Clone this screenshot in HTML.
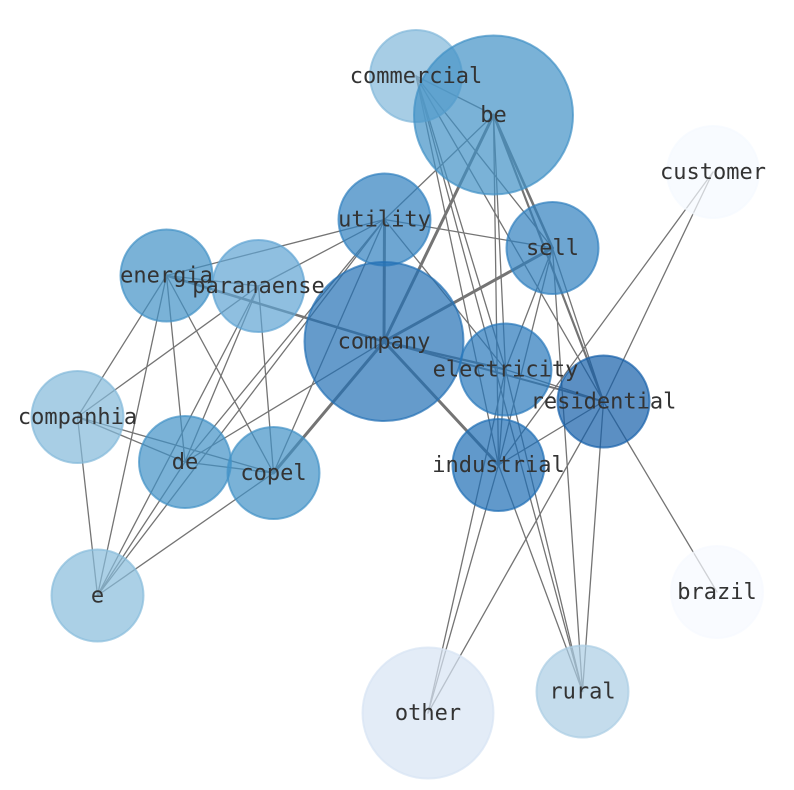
<!DOCTYPE html>
<html><head><meta charset="utf-8"><style>
html,body{margin:0;padding:0;background:#fff;}
svg{display:block;}
text{font-family:"DejaVu Sans Mono","Liberation Mono",monospace;font-size:22px;fill:#333;text-anchor:middle;}
</style></head><body>
<svg width="794" height="790" viewBox="0 0 794 790" xmlns="http://www.w3.org/2000/svg">
<rect width="794" height="790" fill="#fff"/>
<g stroke="#747474" stroke-width="1.3" fill="none" stroke-linecap="round">
<!-- left cluster -->
<line x1="166.5" y1="275.5" x2="258.5" y2="286"/>
<line x1="166.5" y1="275.5" x2="384.5" y2="219.5"/>
<line x1="166.5" y1="275.5" x2="77.5" y2="417"/>
<line x1="166.5" y1="275.5" x2="185" y2="462"/>
<line x1="166.5" y1="275.5" x2="273.5" y2="473"/>
<line x1="166.5" y1="275.5" x2="97.5" y2="595.5"/>
<line x1="258.5" y1="286" x2="384.5" y2="219.5"/>
<line x1="258.5" y1="286" x2="77.5" y2="417"/>
<line x1="258.5" y1="286" x2="185" y2="462"/>
<line x1="258.5" y1="286" x2="273.5" y2="473"/>
<line x1="258.5" y1="286" x2="97.5" y2="595.5"/>
<line x1="384.5" y1="219.5" x2="185" y2="462"/>
<line x1="384.5" y1="219.5" x2="273.5" y2="473"/>
<line x1="384.5" y1="219.5" x2="97.5" y2="595.5"/>
<line x1="77.5" y1="417" x2="185" y2="462"/>
<line x1="77.5" y1="417" x2="273.5" y2="473"/>
<line x1="77.5" y1="417" x2="97.5" y2="595.5"/>
<line x1="185" y1="462" x2="273.5" y2="473"/>
<line x1="185" y1="462" x2="384" y2="341.5"/>
<line x1="185" y1="462" x2="97.5" y2="595.5"/>
<line x1="273.5" y1="473" x2="97.5" y2="595.5"/>
<!-- right cluster -->
<line x1="384.5" y1="219.5" x2="493.5" y2="115"/>
<line x1="384.5" y1="219.5" x2="552.5" y2="248"/>
<line x1="384.5" y1="219.5" x2="505.5" y2="369.5"/>
<line x1="416" y1="76" x2="493.5" y2="115"/>
<line x1="416" y1="76" x2="498.5" y2="465"/>
<line x1="416" y1="76" x2="505.5" y2="369.5"/>
<line x1="416" y1="76" x2="603.5" y2="401.5"/>
<line x1="416" y1="76" x2="552.5" y2="248"/>
<line x1="416" y1="76" x2="582.5" y2="691.5"/>
<line x1="493.5" y1="115" x2="505.5" y2="369.5"/>
<line x1="493.5" y1="115" x2="498.5" y2="465"/>
<line x1="552.5" y1="248" x2="505.5" y2="369.5"/>
<line x1="552.5" y1="248" x2="498.5" y2="465"/>
<line x1="552.5" y1="248" x2="603.5" y2="401.5"/>
<line x1="552.5" y1="248" x2="582.5" y2="691.5"/>
<line x1="505.5" y1="369.5" x2="498.5" y2="465"/>
<line x1="505.5" y1="369.5" x2="603.5" y2="401.5"/>
<line x1="505.5" y1="369.5" x2="582.5" y2="691.5"/>
<line x1="505.5" y1="369.5" x2="428" y2="713"/>
<line x1="498.5" y1="465" x2="603.5" y2="401.5"/>
<line x1="498.5" y1="465" x2="582.5" y2="691.5"/>
<line x1="498.5" y1="465" x2="428" y2="713"/>
<line x1="498.5" y1="465" x2="713" y2="172"/>
<line x1="603.5" y1="401.5" x2="713" y2="172"/>
<line x1="603.5" y1="401.5" x2="717" y2="592"/>
<line x1="603.5" y1="401.5" x2="582.5" y2="691.5"/>
<line x1="603.5" y1="401.5" x2="428" y2="713"/>
</g>
<g stroke="#747474" fill="none" stroke-linecap="round">
<line x1="166.5" y1="275.5" x2="384" y2="341.5" stroke-width="2.6"/>
<line x1="384.5" y1="219.5" x2="384" y2="341.5" stroke-width="3"/>
<line x1="493.5" y1="115" x2="384" y2="341.5" stroke-width="3"/>
<line x1="552.5" y1="248" x2="384" y2="341.5" stroke-width="3"/>
<line x1="273.5" y1="473" x2="384" y2="341.5" stroke-width="3"/>
<line x1="498.5" y1="465" x2="384" y2="341.5" stroke-width="3"/>
<line x1="505.5" y1="369.5" x2="384" y2="341.5" stroke-width="2.2"/>
<line x1="603.5" y1="401.5" x2="384" y2="341.5" stroke-width="2"/>
<line x1="493.5" y1="115" x2="552.5" y2="248" stroke-width="2.6"/>
<line x1="493.5" y1="115" x2="603.5" y2="401.5" stroke-width="2.2"/>
</g>
<g stroke-width="2" fill-opacity="0.7" stroke-opacity="0.7">
<circle cx="416" cy="76" r="46" fill="rgb(129,184,218)" stroke="rgb(129,184,218)"/>
<circle cx="493.5" cy="115" r="79.5" fill="rgb(66,146,198)" stroke="rgb(66,146,198)"/>
<circle cx="713" cy="172" r="46" fill="rgb(245,250,255)" stroke="rgb(245,250,255)"/>
<circle cx="384.5" cy="219.5" r="46" fill="rgb(49,128,191)" stroke="rgb(49,128,191)"/>
<circle cx="552.5" cy="248" r="46" fill="rgb(49,128,191)" stroke="rgb(49,128,191)"/>
<circle cx="166.5" cy="275.5" r="46" fill="rgb(66,146,198)" stroke="rgb(66,146,198)"/>
<circle cx="258.5" cy="286" r="46" fill="rgb(95,164,211)" stroke="rgb(95,164,211)"/>
<circle cx="384" cy="341.5" r="79.5" fill="rgb(35,112,181)" stroke="rgb(35,112,181)"/>
<circle cx="505.5" cy="369.5" r="46" fill="rgb(40,120,186)" stroke="rgb(40,120,186)"/>
<circle cx="603.5" cy="401.5" r="46" fill="rgb(21,95,169)" stroke="rgb(21,95,169)"/>
<circle cx="77.5" cy="417" r="46" fill="rgb(131,185,218)" stroke="rgb(131,185,218)"/>
<circle cx="185" cy="462" r="46" fill="rgb(66,146,198)" stroke="rgb(66,146,198)"/>
<circle cx="273.5" cy="473" r="46" fill="rgb(66,146,198)" stroke="rgb(66,146,198)"/>
<circle cx="498.5" cy="465" r="46" fill="rgb(30,109,181)" stroke="rgb(30,109,181)"/>
<circle cx="97.5" cy="595.5" r="46" fill="rgb(135,188,220)" stroke="rgb(135,188,220)"/>
<circle cx="717" cy="592" r="46" fill="rgb(246,250,255)" stroke="rgb(246,250,255)"/>
<circle cx="428" cy="713" r="65.5" fill="rgb(215,228,244)" stroke="rgb(215,228,244)"/>
<circle cx="582.5" cy="691.5" r="46" fill="rgb(171,205,228)" stroke="rgb(171,205,228)"/>
</g>
<g>
<text x="416" y="83">commercial</text>
<text x="493.5" y="122">be</text>
<text x="713" y="179">customer</text>
<text x="384.5" y="226.5">utility</text>
<text x="552.5" y="255">sell</text>
<text x="166.5" y="282.5">energia</text>
<text x="258.5" y="293">paranaense</text>
<text x="384" y="348.5">company</text>
<text x="505.5" y="376.5">electricity</text>
<text x="603.5" y="408.5">residential</text>
<text x="77.5" y="424">companhia</text>
<text x="185" y="469">de</text>
<text x="273.5" y="480">copel</text>
<text x="498.5" y="472">industrial</text>
<text x="97.5" y="602.5">e</text>
<text x="717" y="599">brazil</text>
<text x="428" y="720">other</text>
<text x="582.5" y="698.5">rural</text>
</g>
</svg>
</body></html>
